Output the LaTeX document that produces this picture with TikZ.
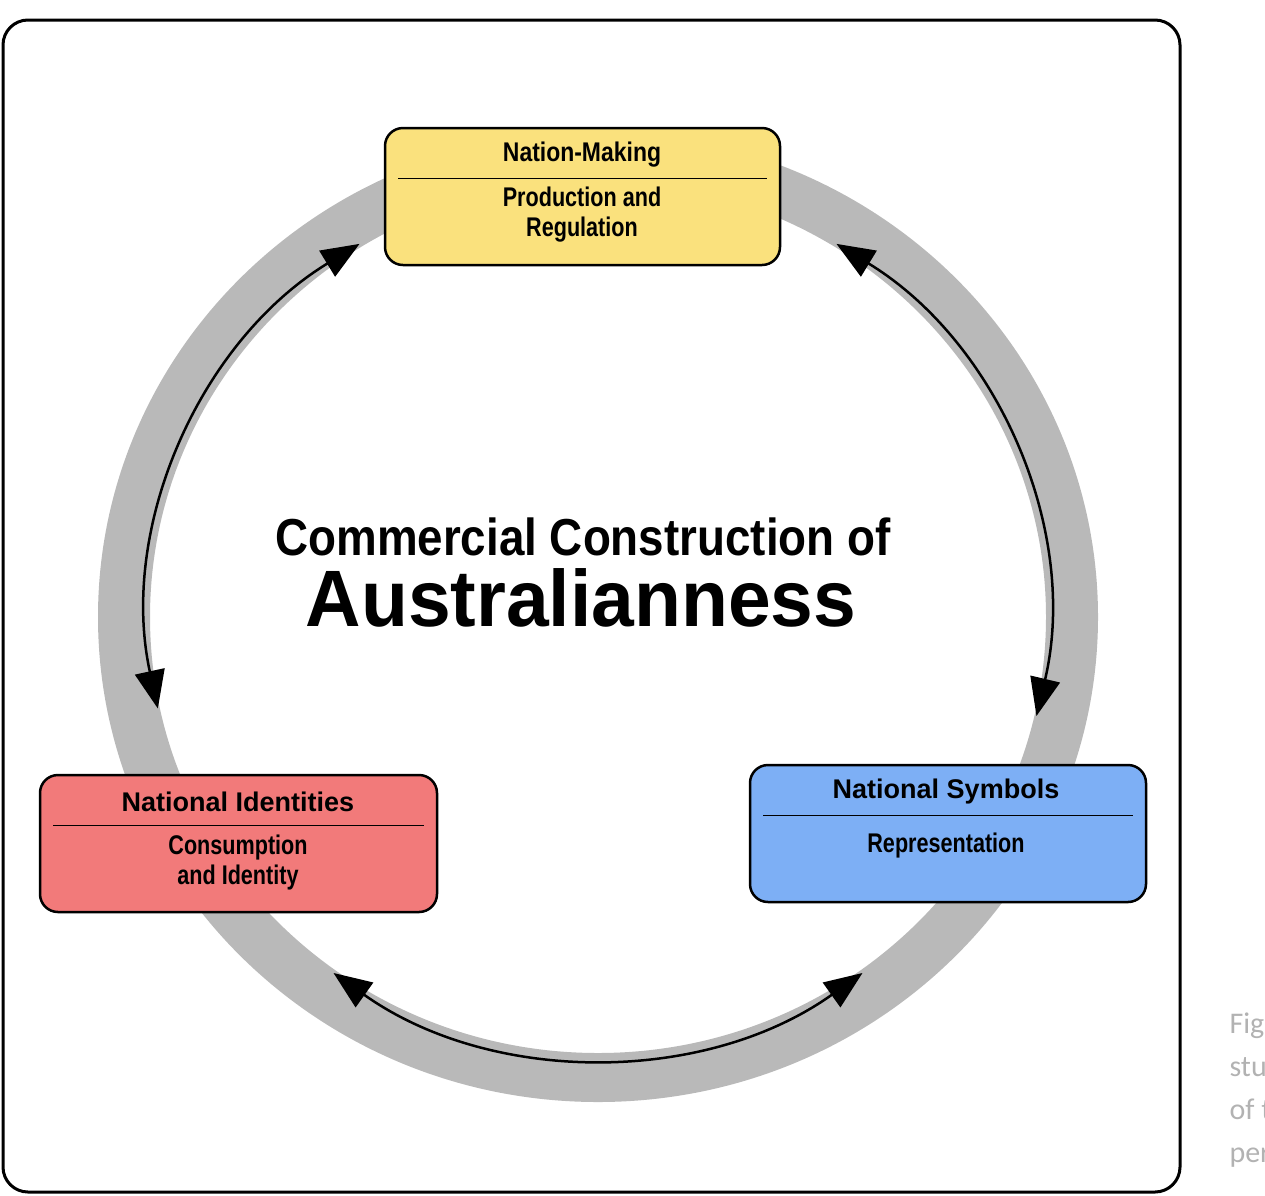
\documentclass[tikz,border=0pt]{standalone}
\usepackage{fontspec}
\setmainfont{Liberation Sans}
\newfontfamily\figfont{Carlito}
\usetikzlibrary{arrows.meta,calc}
\begin{document}
\begin{tikzpicture}[x=1pt,y=-1pt,
  arr/.style={line width=2.5pt,{Triangle[length=38pt,width=30pt]}-{Triangle[length=38pt,width=30pt]}},
  box/.style={draw=black,line width=2.5pt,rounded corners=18pt},
  ttl/.style={font=\bfseries\fontsize{27}{30}\selectfont},
  sub/.style={font=\bfseries\fontsize{27}{30}\selectfont,align=center}]
\useasboundingbox (0,0) rectangle (1265,1195);
\begin{scope}
\clip (0,0) rectangle (1265,1195);
\node[anchor=west,text=gray!60,font=\figfont\fontsize{30}{43}\selectfont,align=left] (fig) at (1226,1090) {Figure\\study\\of the\\perio};
\end{scope}
\draw[line width=3pt,rounded corners=25pt] (3,20) rectangle (1180,1192);
\coordinate (C) at (598,617);
\fill[gray!55,even odd rule] (C) ellipse[x radius=500, y radius=485] (C) ellipse[x radius=448, y radius=436];
% arrows
\coordinate (a1) at ($(C)+(-192:450 and 440)$);
\coordinate (a2) at ($(C)+(-58:450 and 440)$);
\coordinate (a3) at ($(C)+(-234:450 and 440)$);
\draw[arr] (a1) arc[start angle=-192, end angle=-122, x radius=450, y radius=440];
\draw[arr] (a2) arc[start angle=-58, end angle=13, x radius=450, y radius=440];
\draw[arr] (a3) arc[start angle=-234, end angle=-306, x radius=450, y radius=440];
% boxes
\draw[box,fill={rgb,255:red,250;green,225;blue,125}] (385,128) rectangle (780,265);
\draw[line width=1pt] (398,178) -- (767,178);
\node[ttl] (t1) at (582,155) {\scalebox{0.85}[1]{Nation-Making}};
\node[sub] (s1) at (582,215) {\scalebox{0.8}[1]{Production and}\\\scalebox{0.8}[1]{Regulation}};
\draw[box,fill={rgb,255:red,242;green,122;blue,122}] (40,775) rectangle (437,912);
\draw[line width=1pt] (53,825) -- (424,825);
\node[ttl] (t2) at (238,802) {National Identities};
\node[sub] (s2) at (238,862) {\scalebox{0.8}[1]{Consumption}\\\scalebox{0.8}[1]{and Identity}};
\draw[box,fill={rgb,255:red,125;green,175;blue,245}] (750,765) rectangle (1146,902);
\draw[line width=1pt] (763,815) -- (1133,815);
\node[ttl] (t3) at (946,792) {National Symbols};
\node[sub] (s3) at (946,846) {\scalebox{0.8}[1]{Representation}};
% center
\node[font=\bfseries\fontsize{52}{56}\selectfont] (c1) at (583,537) {\scalebox{0.88}[1]{Commercial Construction of}};
\node[font=\bfseries\fontsize{80}{82}\selectfont] (c2) at (581,598) {\scalebox{0.96}[1]{Australianness}};
\end{tikzpicture}
\end{document}
